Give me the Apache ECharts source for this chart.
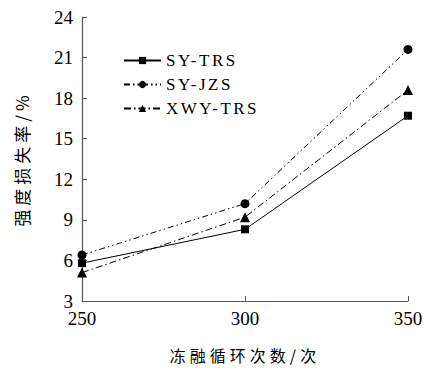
<!DOCTYPE html>
<html>
<head>
<meta charset="utf-8">
<script src="https://cdn.jsdelivr.net/npm/echarts@6/dist/echarts.min.js"></script>
<style>
html,body{margin:0;padding:0;background:#fff;}
#main{width:426px;height:368px;}
/* 图例和轴名字距拉开一点 */
#main text[style*="Liberation Serif"]{letter-spacing:2.5px;}
#main text[style*="Noto Sans CJK"]{letter-spacing:4px;}
</style>
</head>
<body>
<div id="main"></div>
<script>
// 冻融循环次数
var cycles = [250, 300, 350];
var names = ['SY-TRS', 'SY-JZS', 'XWY-TRS'];
var syTrs = [5.8, 8.3, 16.7];
var syJzs = [6.4, 10.2, 21.6];
var xwyTrs = [5.1, 9.2, 18.6];

var serif = 'Liberation Serif';
var tickFont = 'Times New Roman';
var cjk = 'Noto Sans CJK SC';
var axisColor = '#555';

function pts(arr) {
    return cycles.map(function (c, i) { return [c, arr[i]]; });
}

var myChart = echarts.init(document.getElementById('main'), null, { renderer: 'svg' });
myChart.setOption({
    animation: false,
    grid: { left: 82, right: 18, top: 17, bottom: 66 },
    legend: {
        orient: 'vertical',
        left: 123,
        top: 52,
        padding: 0,
        itemWidth: 37,
        itemHeight: 9,
        itemGap: 7,
        textStyle: { fontFamily: serif, fontSize: 17, color: '#000' },
        data: names
    },
    xAxis: {
        type: 'value',
        min: 250, max: 350, interval: 50,
        name: '冻融循环次数/次',
        nameLocation: 'middle',
        nameGap: 46,
        nameTextStyle: { fontFamily: cjk, fontSize: 16, color: '#000' },
        axisLine: { lineStyle: { color: axisColor, width: 1.2 } },
        axisTick: { inside: true, length: 5, lineStyle: { color: axisColor } },
        axisLabel: { fontFamily: tickFont, fontSize: 19, color: '#000', margin: 8 },
        splitLine: { show: false }
    },
    yAxis: {
        type: 'value',
        min: 3, max: 24, interval: 3,
        name: '强度损失率/%',
        nameLocation: 'middle',
        nameGap: 52,
        nameTextStyle: { fontFamily: cjk, fontSize: 17, color: '#000' },
        axisLine: { show: true, lineStyle: { color: axisColor, width: 1.2 } },
        axisTick: { show: true, inside: true, length: 5, lineStyle: { color: axisColor } },
        axisLabel: { fontFamily: tickFont, fontSize: 19, color: '#000', margin: 9 },
        splitLine: { show: false }
    },
    series: [
        {
            name: names[0], type: 'line', data: pts(syTrs),
            symbol: 'rect', symbolSize: 8,
            itemStyle: { color: '#000' },
            lineStyle: { color: '#000', width: 1, type: 'solid' }
        },
        {
            name: names[1], type: 'line', data: pts(syJzs),
            symbol: 'circle', symbolSize: 9,
            itemStyle: { color: '#000' },
            lineStyle: { color: '#000', width: 1, type: [6, 3, 1.5, 3, 1.5, 3] }
        },
        {
            name: names[2], type: 'line', data: pts(xwyTrs),
            symbol: 'triangle', symbolSize: 10,
            itemStyle: { color: '#000' },
            lineStyle: { color: '#000', width: 1, type: [7, 3, 1.5, 3] }
        }
    ]
});
</script>
</body>
</html>
